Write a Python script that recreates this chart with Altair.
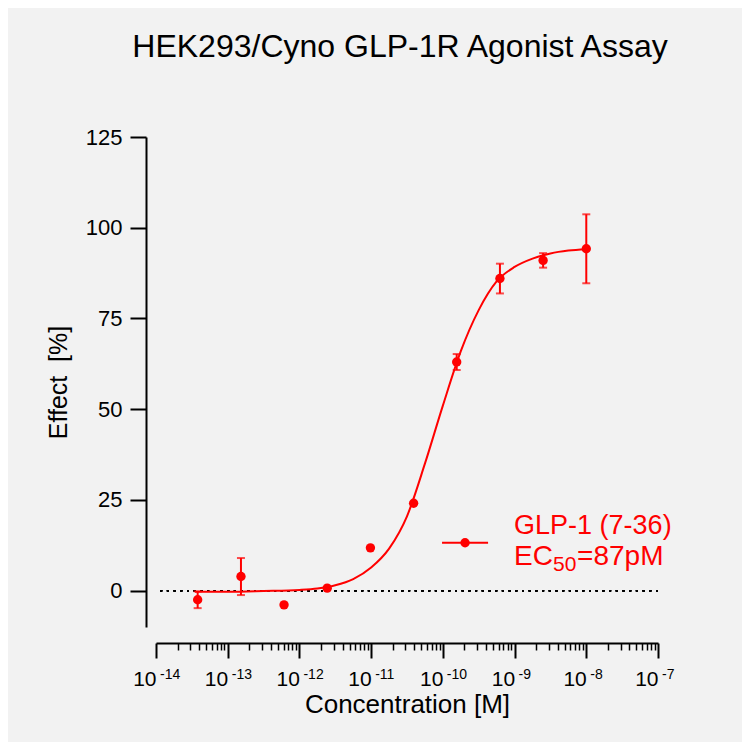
import altair as alt
import pandas as pd

FONT = "Liberation Sans, Arial, sans-serif"
RED = "#ff0000"

# measured points: concentration [M], mean effect [%], error
conc = [3.81e-14, 1.53e-13, 6.10e-13, 2.44e-12, 9.77e-12,
        3.91e-11, 1.56e-10, 6.25e-10, 2.5e-9, 1.0e-8]
effect = [-2.5, 3.9, -3.9, 0.7, 11.8, 24.1, 63.0, 86.0, 91.0, 94.2]
err = [2.3, 5.1, 0.0, 0.0, 0.0, 0.0, 2.2, 4.1, 2.0, 9.5]

# fitted curve
curve_conc = [3.5e-14, 1e-13, 3.16e-13, 1e-12, 1.78e-12, 3.16e-12, 5.62e-12,
              1e-11, 1.78e-11, 3.16e-11, 5.62e-11, 1e-10, 1.78e-10, 3.16e-10,
              5.62e-10, 1e-9, 1.78e-9, 3.16e-9, 5.62e-9, 1e-8]
curve_effect = [-0.3, -0.3, -0.1, 0.2, 0.6, 1.5, 3.2, 6.4, 11.6, 20.5, 35.0,
                51.0, 66.0, 77.3, 85.2, 89.2, 91.5, 92.9, 93.7, 94.1]

series = "GLP-1 (7-36)"
ec50_parts = ["EC", "50", "=87pM"]

decades = [1e-14, 1e-13, 1e-12, 1e-11, 1e-10, 1e-9, 1e-8, 1e-7]
exponents = ["-14", "-13", "-12", "-11", "-10", "-9", "-8", "-7"]
minor_ticks = [k * d for d in decades[:-1] for k in range(2, 10)]
y_ticks = [0, 25, 50, 75, 100, 125]

#%% data frames
pts = pd.DataFrame({"conc": conc, "effect": effect, "err": err})
pts = pts.assign(lo=pts.effect - pts.err, hi=pts.effect + pts.err, zero=0)
bars = pts.query("err > 0")
curve = pd.DataFrame({"conc": curve_conc, "effect": curve_effect})
exps = pd.DataFrame({"conc": decades, "exp": exponents})

# legend drawn in data space, inside the plot
leg = pd.DataFrame({
    "x1": [9.74e-11], "x2": [4.27e-10], "xdot": [2.04e-10], "ysym": [13.2],
    "xtext": [9.84e-10], "y1": [15.6], "y2": [7.1],
})

#%% scales / axes
xsc = alt.Scale(type="log", domain=[1e-14, 1e-7], nice=False)
ysc = alt.Scale(domain=[-10, 125], nice=False, zero=False)

x_major = alt.Axis(values=decades, labelExpr="'10'", orient="bottom",
                   offset=16, tickSize=15, tickWidth=2, domainWidth=2,
                   domainColor="black", tickColor="black", labelColor="black",
                   labelFont=FONT, labelFontSize=21, labelPadding=10,
                   labelAlign="right", labelFlush=False, labelOverlap=False,
                   grid=False, title="Concentration [M]", titleFont=FONT,
                   titleFontSize=26, titleFontWeight="normal",
                   titleColor="black", titlePadding=2)
x_minor = alt.Axis(values=minor_ticks, orient="bottom", offset=16, tickSize=7,
                   tickWidth=1.5, tickColor="black", domain=False, labels=False,
                   grid=False, title=None)
y_axis = alt.Axis(values=y_ticks, offset=10, tickSize=16, tickWidth=2,
                  domainWidth=2, domainColor="black", tickColor="black",
                  labelColor="black", labelFont=FONT, labelFontSize=22,
                  labelPadding=8, grid=False, title="Effect\u00a0 [%]",
                  titleFont=FONT, titleFontSize=25, titleFontWeight="normal",
                  titleColor="black", titlePadding=14)

X = lambda f: alt.X(f, scale=xsc, axis=None)
Y = lambda f: alt.Y(f, scale=ysc, axis=y_axis)

#%% layers
zero_line = (alt.Chart(pts)
    .mark_rule(color="black", strokeDash=[2, 4.7], strokeWidth=1.5)
    .encode(y=Y("zero:Q"))
)

fit = (alt.Chart(curve)
    .mark_line(color=RED, strokeWidth=2, interpolate="monotone")
    .encode(
        x=alt.X("conc:Q", scale=xsc, axis=x_major),
        y=Y("effect:Q")
    )
)

errbars = (alt.Chart(bars)
    .mark_errorbar(color=RED, thickness=2, ticks={"size": 8})
    .encode(x=X("conc:Q"), y=Y("lo:Q"), y2="hi:Q")
)

points = (alt.Chart(pts)
    .mark_circle(size=88, opacity=1, color=RED)
    .encode(
        x=alt.X("conc:Q", scale=xsc, axis=x_minor),
        y=Y("effect:Q")
    )
)

# superscript exponents next to the "10" tick labels
exp_text = (alt.Chart(exps)
    .mark_text(font=FONT, fontSize=14, align="left", baseline="top",
               dx=4, color="black")
    .encode(x=X("conc:Q"), y=alt.value(531), text="exp:N")
)

leg_line = (alt.Chart(leg)
    .mark_rule(color=RED, strokeWidth=2)
    .encode(x=X("x1:Q"), x2="x2:Q", y=Y("ysym:Q"))
)
leg_dot = (alt.Chart(leg)
    .mark_circle(size=88, opacity=1, color=RED)
    .encode(x=X("xdot:Q"), y=Y("ysym:Q"))
)
leg_name = (alt.Chart(leg)
    .mark_text(text=series, font=FONT, fontSize=27, color=RED,
               align="left", baseline="alphabetic")
    .encode(x=X("xtext:Q"), y=Y("y1:Q"))
)
ec_layers = [
    alt.Chart(leg)
    .mark_text(text=part, font=FONT, fontSize=size, color=RED, align="left",
               baseline="alphabetic", dx=dx, dy=dy)
    .encode(x=X("xtext:Q"), y=Y("y2:Q"))
    for part, size, dx, dy in zip(ec50_parts, [28, 21, 28], [0, 39, 63], [0, 6.5, 0])
]

chart = (alt.layer(zero_line, fit, errbars, points, exp_text,
                   leg_line, leg_dot, leg_name, *ec_layers)
    .resolve_axis(x="independent")
    .properties(
        width=502, height=490,
        autosize=alt.AutoSizeParams(type="none"),
        padding={"left": 148, "top": 129, "right": 84, "bottom": 115},
        title=alt.Title("HEK293/Cyno GLP-1R Agonist Assay", font=FONT,
                        fontSize=32, fontWeight="normal", color="black",
                        anchor="middle", dx=-7, offset=37,
                        baseline="alphabetic")
    )
    .configure(background="#f2f2f2")
    .configure_view(stroke=None)
)

chart.save("out.html", embed_options={"renderer": "svg", "actions": False})
